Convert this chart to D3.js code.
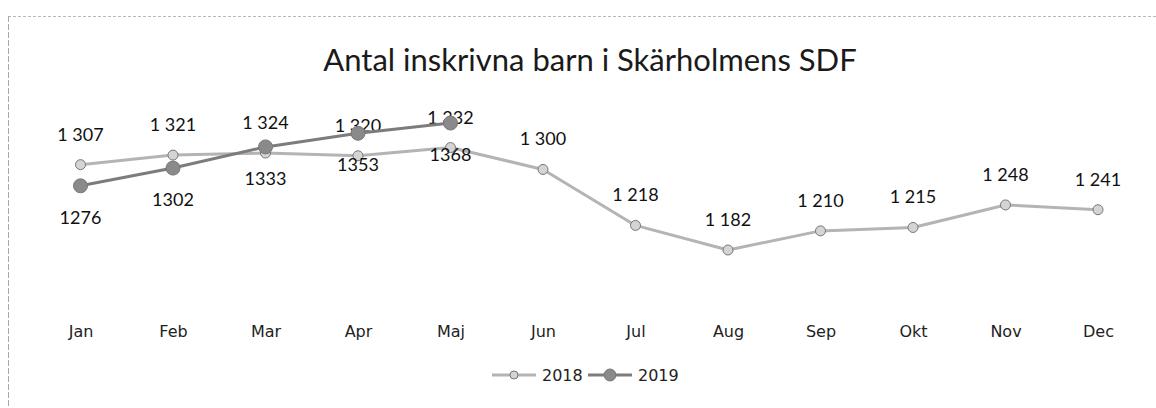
<!DOCTYPE html>
<html>
<head>
<meta charset="utf-8">
<script src="https://cdn.jsdelivr.net/npm/d3@7"></script>
<style>
  body { margin: 0; background: #fff; }
  svg { display: block; }
</style>
</head>
<body>
<svg id="chart"></svg>
<script>
// months on the x axis
const months = ["Jan", "Feb", "Mar", "Apr", "Maj", "Jun", "Jul", "Aug", "Sep", "Okt", "Nov", "Dec"];
// inskrivna barn per month
const values2018 = [1307, 1321, 1324, 1320, 1332, 1300, 1218, 1182, 1210, 1215, 1248, 1241];
const values2019 = [1276, 1302, 1333, 1353, 1368];
const seriesNames = ["2018", "2019"];

const W = 1156, H = 408;
const svg = d3.select("#chart").attr("width", W).attr("height", H);

// scanned frame: dotted top edge, dashed left edge
svg.append("line").attr("x1", 8).attr("x2", W).attr("y1", 16.5).attr("y2", 16.5)
  .attr("stroke", "#b8b8b8").attr("stroke-dasharray", "3 2");
svg.append("line").attr("x1", 8.5).attr("x2", 8.5).attr("y1", 16).attr("y2", H)
  .attr("stroke", "#a8a8a8").attr("stroke-dasharray", "6 2");

svg.append("text")
  .attr("x", 590).attr("y", 71)
  .attr("text-anchor", "middle")
  .attr("font-family", "Lato, 'Open Sans', sans-serif")
  .attr("font-size", 31)
  .attr("fill", "#1a1a1a")
  .text("Antal inskrivna barn i Skärholmens SDF");

const x = d3.scalePoint().domain(months).range([80.5, 1098]);
const y = d3.scaleLinear().domain([1182, 1368]).range([250, 123]);

// x axis: labels only
const xAxis = svg.append("g")
  .attr("transform", "translate(0,331)")
  .call(d3.axisBottom(x).tickSize(0).tickPadding(0));
xAxis.select(".domain").remove();
xAxis.selectAll("text")
  .attr("font-family", "'DejaVu Sans', sans-serif")
  .attr("font-size", 16)
  .attr("fill", "#222")
  .attr("dy", "0.35em");

const line = d3.line().x((d, i) => x(months[i])).y(d => y(d));

const styles = {
  "2018": { stroke: "#b4b4b4", marker: "#d4d4d4", r: 5, width: 3 },
  "2019": { stroke: "#7c7c7c", marker: "#8a8a8a", r: 7, width: 3 },
};

function drawSeries(name, vals, labelFmt, labelDy) {
  const s = styles[name];
  const g = svg.append("g");
  g.append("path").datum(vals)
    .attr("d", line)
    .attr("fill", "none")
    .attr("stroke", s.stroke)
    .attr("stroke-width", s.width)
    .attr("stroke-linejoin", "round");
  g.selectAll("circle").data(vals).enter().append("circle")
    .attr("cx", (d, i) => x(months[i]))
    .attr("cy", d => y(d))
    .attr("r", s.r)
    .attr("fill", s.marker)
    .attr("stroke", "#777")
    .attr("stroke-width", 1);
  g.selectAll("text").data(vals).enter().append("text")
    .attr("x", (d, i) => x(months[i]))
    .attr("y", d => y(d) + labelDy)
    .attr("text-anchor", "middle")
    .attr("dominant-baseline", "central")
    .attr("font-family", "Lato, 'Open Sans', sans-serif")
    .attr("font-size", 18)
    .attr("fill", "#111")
    .text(labelFmt);
}

const spaced = d => d3.format(",")(d).replace(",", " ");
drawSeries("2018", values2018, spaced, -31);
drawSeries("2019", values2019, d => String(d), 31);

// legend
const legend = svg.append("g").attr("transform", "translate(0,375)");
const legendX = [492, 588];
seriesNames.forEach((name, i) => {
  const s = styles[name];
  const lx = legendX[i];
  legend.append("line").attr("x1", lx).attr("x2", lx + 44).attr("y1", 0).attr("y2", 0)
    .attr("stroke", s.stroke).attr("stroke-width", s.width);
  legend.append("circle").attr("cx", lx + 22).attr("cy", 0).attr("r", s.r - 1)
    .attr("fill", s.marker).attr("stroke", "#777");
  legend.append("text").attr("x", lx + 50).attr("y", 0)
    .attr("dominant-baseline", "central")
    .attr("font-family", "'DejaVu Sans', sans-serif")
    .attr("font-size", 16)
    .attr("fill", "#222")
    .text(name);
});
</script>
</body>
</html>
